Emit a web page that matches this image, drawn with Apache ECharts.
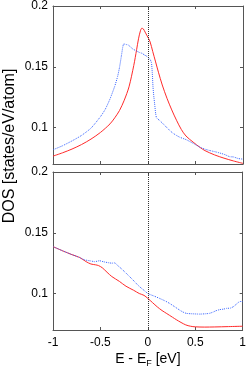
<!DOCTYPE html>
<html>
<head>
<meta charset="utf-8">
<script src="https://cdn.jsdelivr.net/npm/echarts@6/dist/echarts.min.js"></script>
<style>
html,body{margin:0;padding:0;background:#fff;}
#chart{width:249px;height:372px;}
</style>
</head>
<body>
<div id="chart"></div>
<script>
// ---- data ----
var xTicks = [-1, -0.5, 0, 0.5, 1];
var yTicks = [0.1, 0.15, 0.2];

var topRedX = [-1,-0.9,-0.8,-0.7,-0.6,-0.5,-0.4,-0.35,-0.3,-0.25,-0.2,-0.15,-0.12,-0.1,-0.08,-0.065,-0.05,-0.03,-0.01,0.02,0.05,0.08,0.11,0.15,0.2,0.25,0.3,0.35,0.4,0.475,0.55,0.6,0.7,0.8,0.9,1.0];
var topRedY = [0.0765,0.0792,0.0823,0.0860,0.0905,0.0960,0.1030,0.1080,0.1140,0.1225,0.1335,0.1510,0.1640,0.1730,0.1795,0.1817,0.1812,0.1785,0.1755,0.1710,0.1625,0.1540,0.1455,0.1350,0.1240,0.1145,0.1060,0.0985,0.0930,0.0880,0.0835,0.0810,0.0775,0.0748,0.0725,0.0705];

var topBlueX = [-1,-0.9,-0.8,-0.7,-0.6,-0.5,-0.45,-0.4,-0.35,-0.32,-0.3,-0.28,-0.265,-0.255,-0.23,-0.21,-0.18,-0.158,-0.12,-0.088,-0.06,-0.04,-0.02,0.0,0.02,0.036,0.045,0.053,0.062,0.07,0.08,0.09,0.124,0.16,0.194,0.23,0.264,0.3,0.335,0.405,0.475,0.546,0.6,0.65,0.72,0.8,0.86,0.9,0.95,1.0];
var topBlueY = [0.0817,0.0850,0.0890,0.0935,0.0995,0.1090,0.1150,0.1235,0.1340,0.1420,0.1494,0.1590,0.1665,0.1688,0.1683,0.1680,0.1660,0.1645,0.1630,0.1617,0.1610,0.1598,0.1590,0.1578,0.1563,0.1535,0.1450,0.1330,0.1250,0.1194,0.1120,0.1080,0.1057,0.1030,0.1003,0.0975,0.0953,0.0935,0.0920,0.0899,0.0870,0.0839,0.0822,0.0811,0.0798,0.0780,0.0760,0.0758,0.0745,0.0740];

var botRedX = [-1,-0.9,-0.8,-0.72,-0.65,-0.6,-0.55,-0.52,-0.48,-0.43,-0.38,-0.3,-0.23,-0.15,-0.09,-0.04,0,0.05,0.1,0.15,0.2,0.26,0.3,0.35,0.4,0.45,0.5,0.6,0.7,0.85,1];
var botRedY = [0.1386,0.1352,0.1320,0.1297,0.1262,0.1243,0.1236,0.1230,0.1212,0.1175,0.1140,0.1100,0.1060,0.1027,0.1000,0.0985,0.0960,0.0925,0.0890,0.0860,0.0835,0.0805,0.0785,0.0762,0.0742,0.0731,0.0726,0.0724,0.0725,0.0728,0.0731];

var botBlueX = [-1,-0.9,-0.8,-0.72,-0.67,-0.6,-0.56,-0.51,-0.47,-0.42,-0.38,-0.35,-0.32,-0.28,-0.246,-0.2,-0.175,-0.14,-0.106,-0.07,-0.035,0,0.07,0.124,0.18,0.229,0.28,0.335,0.37,0.405,0.45,0.546,0.6,0.65,0.69,0.72,0.76,0.8,0.83,0.87,0.9,0.93,0.96,0.98,1];
var botBlueY = [0.1386,0.1352,0.1320,0.1297,0.1278,0.1268,0.1262,0.1270,0.1262,0.1254,0.1250,0.1252,0.1232,0.1205,0.1180,0.1145,0.1126,0.1098,0.1070,0.1045,0.1023,0.1000,0.0978,0.0960,0.0940,0.0919,0.0893,0.0864,0.0848,0.0837,0.0834,0.0831,0.0833,0.0837,0.0848,0.0859,0.0868,0.0872,0.0878,0.0880,0.0891,0.0910,0.0930,0.0935,0.0933];

// ---- helpers ----
function pairs(xs, ys){ return xs.map(function(x,i){ return [x, ys[i]]; }); }

var FONT = 'Liberation Sans, Arial, sans-serif';
var FRAME = '#555555';
var RED = '#ff2a2a';
var BLUE = '#3a66ff';

function xAx(grid, pos, labels){
  return {
    type:'value', gridIndex:grid, position:pos, min:-1, max:1, interval:0.5,
    axisLine:{show:true, onZero:false, lineStyle:{color:FRAME, width:1}},
    axisTick:{show:true, inside:true, length:3, lineStyle:{color:FRAME}},
    axisLabel:{show:labels, color:'#000', fontFamily:FONT, fontSize:12, margin:7},
    splitLine:{show:false}
  };
}
function yAx(grid, pos, labels){
  return {
    type:'value', gridIndex:grid, position:pos, min:0.07, max:0.2,
    axisLine:{show:true, onZero:false, lineStyle:{color:FRAME, width:1}},
    axisTick:{show:true, inside:true, length:3, customValues:yTicks.slice(), lineStyle:{color:FRAME}},
    axisLabel:{show:labels, customValues:yTicks.slice(), color:'#000', fontFamily:FONT, fontSize:12, margin:5},
    splitLine:{show:false}
  };
}

function vline(){
  return {
    silent:true, symbol:['none','none'],
    label:{show:false},
    lineStyle:{type:[1,1], color:'#333', width:1},
    data:[{xAxis:0}]
  };
}

var xBottom = xAx(1,'bottom',true);
xBottom.name = 'E - E{sub|F} [eV]';
xBottom.nameLocation = 'middle';
xBottom.nameGap = 21;
xBottom.nameTextStyle = {
  color:'#000', fontFamily:FONT, fontSize:14, verticalAlign:'top',
  rich:{ sub:{fontFamily:FONT, fontSize:9, verticalAlign:'bottom', padding:[8,0,0,0], color:'#000'} }
};

var option = {
  animation:false,
  backgroundColor:'#fff',
  grid:[
    {left:53, right:6, top:5, height:159},
    {left:53, right:6, top:172, height:158}
  ],
  xAxis:[ xAx(0,'bottom',false), xAx(0,'top',false), xBottom, xAx(1,'top',false) ],
  yAxis:[ yAx(0,'left',true), yAx(0,'right',false), yAx(1,'left',true), yAx(1,'right',false) ],
  graphic:[{
    type:'text', x:2, y:146, rotation:Math.PI/2,
    style:{text:'DOS [states/eV/atom]', fill:'#000', font:'16px ' + FONT, align:'center', verticalAlign:'top'}
  }],
  series:[
    {type:'line', xAxisIndex:0, yAxisIndex:0, data:pairs(topRedX, topRedY), showSymbol:false, smooth:0.3,
     lineStyle:{color:RED, width:1}, itemStyle:{color:RED}, markLine:vline()},
    {type:'line', xAxisIndex:0, yAxisIndex:0, data:pairs(topBlueX, topBlueY), showSymbol:false, smooth:0.2,
     lineStyle:{color:BLUE, width:1, type:[1,1]}, itemStyle:{color:BLUE}},
    {type:'line', xAxisIndex:2, yAxisIndex:2, data:pairs(botRedX, botRedY), showSymbol:false, smooth:0.3,
     lineStyle:{color:RED, width:1}, itemStyle:{color:RED}, markLine:vline()},
    {type:'line', xAxisIndex:2, yAxisIndex:2, data:pairs(botBlueX, botBlueY), showSymbol:false, smooth:0.2,
     lineStyle:{color:BLUE, width:1, type:[1,1]}, itemStyle:{color:BLUE}}
  ]
};

var chart = echarts.init(document.getElementById('chart'), null, {renderer:'canvas'});
chart.setOption(option);
</script>
</body>
</html>
